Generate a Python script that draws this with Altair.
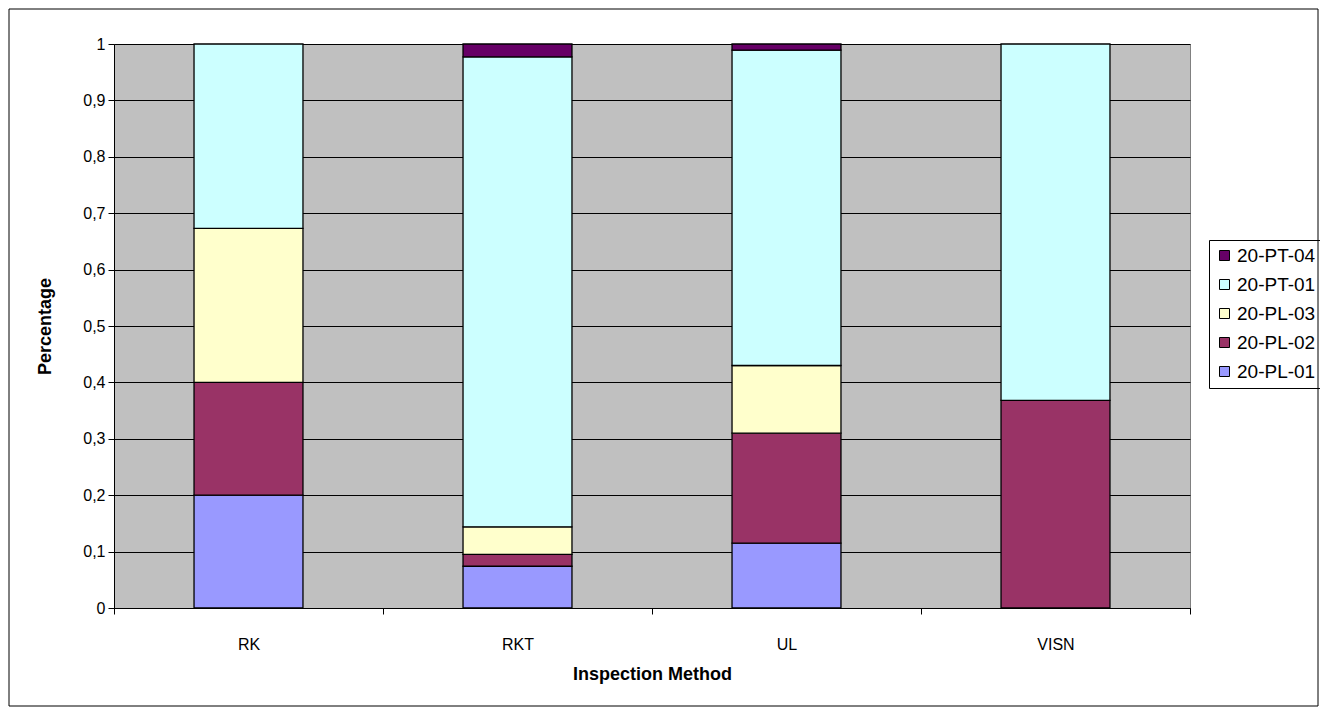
import altair as alt
import pandas as pd

# Share of findings per inspection method, stacked by series
methods = ["RK", "RKT", "UL", "VISN"]
series = ["20-PL-01", "20-PL-02", "20-PL-03", "20-PT-01", "20-PT-04"]
pl01 = [0.200, 0.074, 0.115, 0.000]
pl02 = [0.200, 0.021, 0.195, 0.368]
pl03 = [0.273, 0.049, 0.120, 0.000]
pt01 = [0.327, 0.833, 0.559, 0.632]
pt04 = [0.000, 0.023, 0.011, 0.000]
colors = ["#9999FF", "#993366", "#FFFFCC", "#CCFFFF", "#660066"]
y_ticks = [0, 0.1, 0.2, 0.3, 0.4, 0.5, 0.6, 0.7, 0.8, 0.9, 1]

values = [pl01, pl02, pl03, pt01, pt04]
rows = []
for rank, (name, vals) in enumerate(zip(series, values)):
    for m, v in zip(methods, vals):
        if v > 0:
            rows.append({"method": m, "series": name, "share": v, "rank": rank})
df = pd.DataFrame(rows)

W, H = 1076, 564
FONT = "Liberation Sans"

legend_order = series[::-1]
legend_colors = colors[::-1]

bars = alt.Chart(df).mark_bar(
    width=alt.RelativeBandSize(0.405), stroke="black", strokeWidth=1.3
).encode(
    x=alt.X(
        "method:N",
        sort=methods,
        scale=alt.Scale(paddingInner=0, paddingOuter=0),
        axis=alt.Axis(
            title="Inspection Method",
            labelAngle=0,
            tickBand="extent",
            tickSize=6,
            tickColor="black",
            domainColor="black",
            labelFontSize=16,
            labelPadding=22,
            titleFontSize=18,
            titleFontWeight="bold",
            titlePadding=13,
            labelColor="black",
            titleColor="black",
        ),
    ),
    y=alt.Y(
        "share:Q",
        stack="zero",
        scale=alt.Scale(domain=[0, 1], nice=False),
        axis=alt.Axis(
            title="Percentage",
            values=y_ticks,
            labelExpr="replace(format(datum.value, '.1~f'), '.', ',')",
            grid=True,
            gridColor="black",
            gridWidth=1,
            tickSize=6,
            tickColor="black",
            domainColor="black",
            labelFontSize=16,
            labelPadding=3,
            titleFontSize=18,
            titleFontWeight="bold",
            titlePadding=28,
            labelColor="black",
            titleColor="black",
        ),
    ),
    color=alt.Color(
        "series:N",
        scale=alt.Scale(domain=legend_order, range=legend_colors),
        legend=alt.Legend(
            title=None,
            orient="none",
            legendX=1095,
            legendY=196,
            strokeColor="black",
            padding=6,
            symbolType="square",
            symbolSize=100,
            symbolStrokeColor="black",
            symbolStrokeWidth=1,
            labelFontSize=19,
            labelOffset=3,
            labelColor="black",
            rowPadding=9,
        ),
    ),
    order=alt.Order("rank:Q", sort="ascending"),
)

# Frame around the whole chart
frame = alt.Chart(pd.DataFrame({"k": [0]})).mark_rect(
    filled=False, stroke="black", strokeWidth=1
).encode(
    x=alt.value(-105), x2=alt.value(1204),
    y=alt.value(-35), y2=alt.value(662),
)

chart = alt.layer(bars, frame).properties(
    width=W,
    height=H,
    autosize=alt.AutoSizeParams(type="none"),
    padding={"left": 114, "top": 44, "right": 130, "bottom": 101},
    background="white",
).configure(
    font=FONT
).configure_view(
    fill="#C0C0C0", stroke="#808080", strokeWidth=1
)

chart.save("out.html", embed_options={"renderer": "svg", "actions": False})
